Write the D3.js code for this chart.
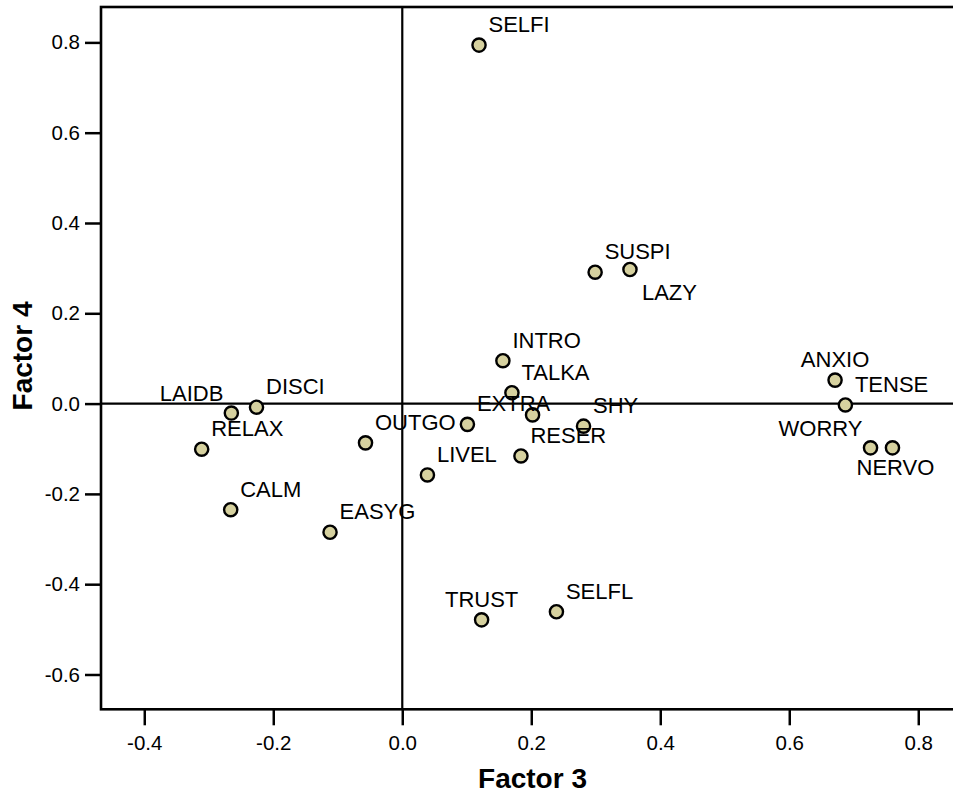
<!DOCTYPE html>
<html>
<head>
<meta charset="utf-8">
<script src="https://cdn.jsdelivr.net/npm/d3@7"></script>
<style>
  body { margin: 0; background: #fff; }
  text { font-family: "Liberation Sans", Arial, sans-serif; fill: #000; }
</style>
</head>
<body>
<div id="chart"></div>
<script>
// Loadings (Factor 3 on x, Factor 4 on y)
const varNames = ["SELFI", "SUSPI", "LAZY", "INTRO", "TALKA", "", "SHY", "EXTRA", "RESER", "LIVEL",
                  "OUTGO", "DISCI", "LAIDB", "RELAX", "CALM", "EASYG", "TRUST", "SELFL",
                  "ANXIO", "TENSE", "WORRY", "NERVO"];
const factor3 = [0.119, 0.299, 0.353, 0.156, 0.170, 0.202, 0.281, 0.101, 0.184, 0.039,
                 -0.057, -0.226, -0.265, -0.311, -0.266, -0.112, 0.123, 0.239,
                 0.671, 0.687, 0.726, 0.760];
const factor4 = [0.794, 0.291, 0.297, 0.095, 0.024, -0.025, -0.050, -0.046, -0.116, -0.158,
                 -0.087, -0.008, -0.021, -0.101, -0.235, -0.285, -0.479, -0.461,
                 0.052, -0.003, -0.098, -0.098];

const xTicks = [-0.4, -0.2, 0.0, 0.2, 0.4, 0.6, 0.8];
const yTicks = [-0.6, -0.4, -0.2, 0.0, 0.2, 0.4, 0.6, 0.8];
const xTitle = "Factor 3";
const yTitle = "Factor 4";

// where each label sits relative to its point (default top-right)
const labelSide = { LAZY: "br", LAIDB: "tl", WORRY: "tl", TRUST: "tc", ANXIO: "tc", NERVO: "bc" };
const sideOffset = {
    tr: { dx: 9.5, dy: -13, anchor: "start" },
    br: { dx: 12, dy: 31, anchor: "start" },
    tl: { dx: -8, dy: -12, anchor: "end" },
    tc: { dx: 0, dy: -13, anchor: "middle" },
    bc: { dx: 3, dy: 27, anchor: "middle" }
};

const points = varNames.map((name, i) => ({ name: name, x: factor3[i], y: factor4[i] }));

const W = 953, H = 798;
const plot = { left: 101, right: 964, top: 7, bottom: 709.3 };

const svg = d3.select("#chart").append("svg")
    .attr("width", W)
    .attr("height", H);

const xScale = d3.scaleLinear()
    .domain([-0.4671, 0.8709])
    .range([plot.left, plot.right]);

const yScale = d3.scaleLinear()
    .domain([-0.6771, 0.8784])
    .range([plot.bottom, plot.top]);

const fmt = v => d3.format(".1f")(v).replace("\u2212", "-");

// axes
const xAxis = svg.append("g")
    .attr("transform", "translate(0," + plot.bottom + ")")
    .call(d3.axisBottom(xScale).tickValues(xTicks).tickFormat(fmt).tickSize(16).tickPadding(10));

const yAxis = svg.append("g")
    .attr("transform", "translate(" + plot.left + ",0)")
    .call(d3.axisLeft(yScale).tickValues(yTicks).tickFormat(fmt).tickSize(16).tickPadding(5));

[xAxis, yAxis].forEach(ax => {
    ax.select(".domain").remove();
    ax.selectAll(".tick line").attr("stroke", "#000").attr("stroke-width", 2.5);
    ax.selectAll(".tick text")
        .style("font-family", "'Liberation Sans', Arial, sans-serif")
        .style("font-size", "20.5px")
        .attr("fill", "#000");
});

// frame
svg.append("rect")
    .attr("x", plot.left)
    .attr("y", plot.top)
    .attr("width", plot.right - plot.left)
    .attr("height", plot.bottom - plot.top)
    .attr("fill", "none")
    .attr("stroke", "#000")
    .attr("stroke-width", 2.6);

// reference lines through zero
svg.append("line")
    .attr("x1", xScale(0)).attr("x2", xScale(0))
    .attr("y1", plot.top).attr("y2", plot.bottom)
    .attr("stroke", "#000").attr("stroke-width", 2.2);

svg.append("line")
    .attr("x1", plot.left).attr("x2", plot.right)
    .attr("y1", yScale(0)).attr("y2", yScale(0))
    .attr("stroke", "#000").attr("stroke-width", 2.2);

// points
svg.selectAll(".pt")
    .data(points)
    .enter()
    .append("circle")
    .attr("class", "pt")
    .attr("cx", d => xScale(d.x))
    .attr("cy", d => yScale(d.y))
    .attr("r", 6.6)
    .attr("fill", "#d6d19f")
    .attr("stroke", "#000")
    .attr("stroke-width", 2.4);

// point labels
svg.selectAll(".lbl")
    .data(points.filter(d => d.name !== ""))
    .enter()
    .append("text")
    .attr("class", "lbl")
    .each(function (d) {
        const o = sideOffset[labelSide[d.name] || "tr"];
        d3.select(this)
            .attr("x", xScale(d.x) + o.dx)
            .attr("y", yScale(d.y) + o.dy)
            .attr("text-anchor", o.anchor);
    })
    .style("font-size", "22px")
    .text(d => d.name);

// axis titles
svg.append("text")
    .attr("x", (plot.left + plot.right) / 2)
    .attr("y", 788)
    .attr("text-anchor", "middle")
    .style("font-size", "28px")
    .style("font-weight", "bold")
    .text(xTitle);

svg.append("text")
    .attr("transform", "translate(31.5," + 356 + ") rotate(-90)")
    .attr("text-anchor", "middle")
    .style("font-size", "28px")
    .style("font-weight", "bold")
    .text(yTitle);
</script>
</body>
</html>
